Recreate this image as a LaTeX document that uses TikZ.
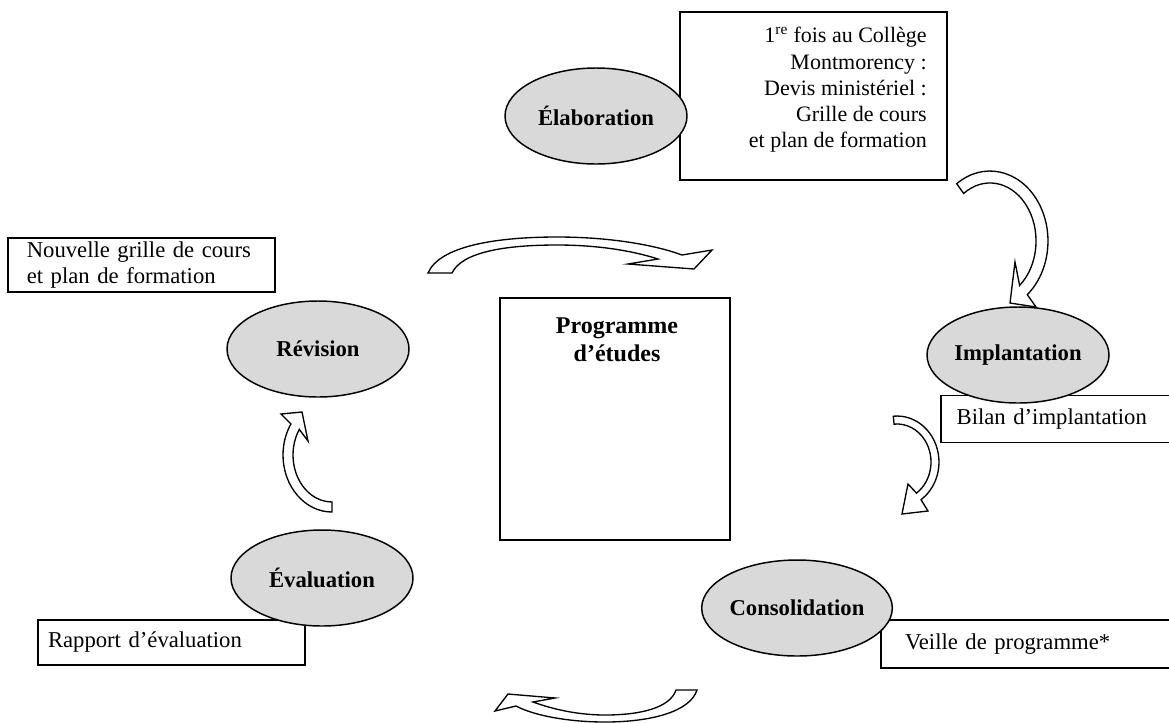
\documentclass[tikz,border=0pt]{standalone}
\usepackage{fontspec}
\setmainfont{Liberation Serif}
\usepackage{xcolor}
\usepackage{tikz}
\definecolor{stagegray}{rgb}{0.851,0.851,0.851}

\tikzset{
  stage/.style={ellipse, draw, line width=1.1pt, fill=stagegray, inner sep=0pt,
    minimum width=136.5pt, minimum height=72pt, font=\fontsize{17}{20}\selectfont\bfseries},
  note/.style={draw, line width=1pt, fill=white, inner sep=0pt, font=\fontsize{17}{19.7}\selectfont},
  bent/.style={draw, line width=1pt, fill=white, line join=miter},
}
\usetikzlibrary{shapes.geometric}

\begin{document}
\begin{tikzpicture}[x=0.75pt,y=0.75pt,yscale=-1]
\useasboundingbox (0,0) rectangle (1169,722);

%Shape: Boxes behind the stages
\node[note, minimum width=200.25pt, minimum height=126pt] (elabnote) at (813.5,96) {};
% Text Node
\node[font=\fontsize{16.5}{19.7}\selectfont, align=right, anchor=north east, inner sep=0pt] (elabtext) at (927,27)
  {1\textsuperscript{re} fois au Collège\\Montmorency :\\Devis ministériel :\\Grille de cours\\et plan de formation};
\node[note, minimum width=175.5pt, minimum height=35.25pt, text width=152pt, align=left] (bilannote) at (1058,419) {Bilan d’implantation};
\node[note, minimum width=220.5pt, minimum height=36pt, text width=184.5pt, align=left] (veillenote) at (1028,644) {Veille de programme*};
\node[note, minimum width=200.25pt, minimum height=33.75pt, text width=185.25pt, align=left] (rapportnote) at (171.5,642.5) {Rapport d’évaluation};
\node[note, minimum width=200.25pt, minimum height=40.5pt, text width=172pt, align=left] (nouvnote) at (141.5,265)
  {Nouvelle grille de cours\\et plan de formation};

%Shape: Square
\node[note, minimum width=172.5pt, minimum height=181.5pt] (prog) at (615,419) {};
% Text Node
\node[font=\fontsize{18}{21}\selectfont\bfseries, align=center] (progname) at (617,340) {Programme\\d’études};

%Shape: Ellipse
\node[stage] (elab) at (596,116) {Élaboration};
\node[stage] (impl) at (1018,355) {Implantation};
\node[stage] (consol) at (797,608) {Consolidation};
\node[stage] (eval) at (322,578) {Évaluation};
\node[stage] (revis) at (318,349) {Révision};

%Curve Arrow (top)
\draw[bent] (428,273) .. controls (440,245) and (500,237) .. (557,237) .. controls (610,237) and (655,245) .. (682,255)
  -- (712,250) -- (694,269) -- (628,264) -- (658,259) .. controls (630,250) and (595,245) .. (557,245)
  .. controls (505,245) and (462,252) .. (452,273) -- cycle;
%Curve Arrow (right, upper)
\draw[bent] (956.7,183.7) arc[start angle=-125, end angle=50, x radius=58, y radius=70]
  -- (1036,307) -- (1010,303) -- (1015,262) -- (1019.6,285.4)
  arc[start angle=50, end angle=-125, x radius=46, y radius=58] -- cycle;
%Curve Arrow (right, lower)
\draw[bent] (893.3,416.2) arc[start angle=-95, end angle=55, x radius=42, y radius=46]
  -- (928,511) -- (902,514) -- (908,484) -- (916.5,493.1)
  arc[start angle=55, end angle=-95, x radius=34, y radius=38] -- cycle;
%Curve Arrow (bottom)
\draw[bent] (697,690) .. controls (690,712) and (650,722) .. (605,722) .. controls (570,722) and (535,716) .. (516,706)
  -- (495,711) -- (508,694) -- (555,698) -- (533,702) .. controls (555,710) and (580,715) .. (605,715)
  .. controls (640,715) and (670,708) .. (676,690) -- cycle;
%Curve Arrow (left)
\draw[bent] (332,512) arc[start angle=90, end angle=213, x radius=49, y radius=57]
  -- (281,414) -- (302,412) -- (308,441) -- (299.3,429.4)
  arc[start angle=213, end angle=90, x radius=39, y radius=47] -- cycle;

\end{tikzpicture}
\end{document}
